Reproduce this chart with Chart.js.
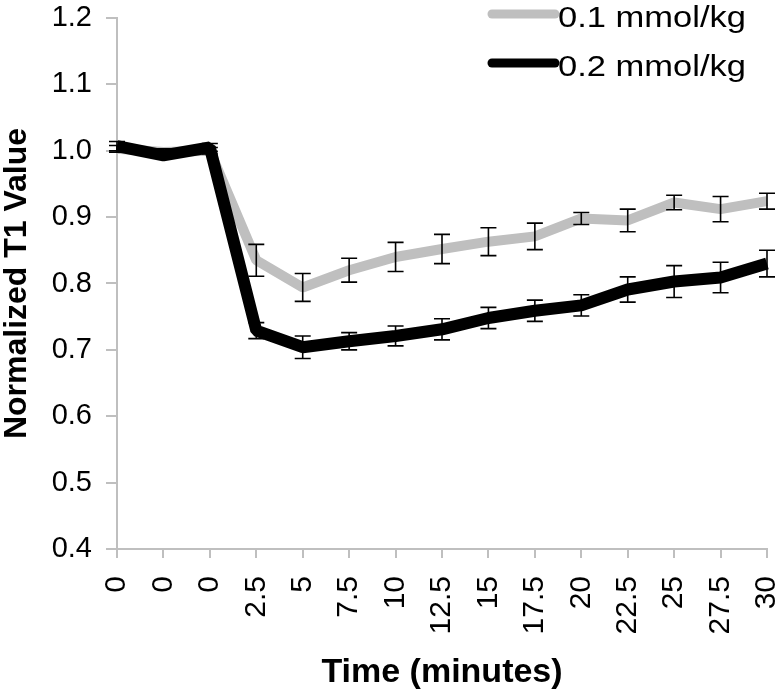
<!DOCTYPE html>
<html>
<head>
<meta charset="utf-8">
<script src="https://cdn.jsdelivr.net/npm/chart.js@4.4.1/dist/chart.umd.min.js"></script>
<style>
  html, body { margin: 0; padding: 0; background: #fff; }
  #wrap { width: 784px; height: 693px; position: relative; }
</style>
</head>
<body>
<div id="wrap"><canvas id="c"></canvas></div>
<script>
const categories = ['0','0','0','2.5','5','7.5','10','12.5','15','17.5','20','22.5','25','27.5','30'];
const seriesNames = ['0.1 mmol/kg', '0.2 mmol/kg'];
const dose01 = [1.003, 0.998, 1.000, 0.835, 0.794, 0.820, 0.840, 0.852, 0.863, 0.871, 0.898, 0.895, 0.922, 0.912, 0.924];
const dose01Err = [0.005, 0.005, 0.005, 0.024, 0.021, 0.018, 0.022, 0.022, 0.021, 0.020, 0.009, 0.017, 0.011, 0.019, 0.012];
const dose02 = [1.007, 0.993, 1.005, 0.729, 0.704, 0.713, 0.721, 0.731, 0.748, 0.759, 0.767, 0.791, 0.803, 0.809, 0.830];
const dose02Err = [0.007, 0.004, 0.006, 0.012, 0.017, 0.013, 0.015, 0.016, 0.016, 0.016, 0.016, 0.019, 0.024, 0.023, 0.020];
const yTicks = [0.4, 0.5, 0.6, 0.7, 0.8, 0.9, 1.0, 1.1, 1.2];

const GRAY = '#bfbfbf';
const FONT = "'Liberation Sans', Arial, sans-serif";

const errorBars = {
  id: 'errorBars',
  afterDatasetsDraw(chart) {
    const ctx = chart.ctx;
    const y = chart.scales.y;
    ctx.save();
    ctx.strokeStyle = '#000';
    ctx.lineWidth = 1.6;
    chart.data.datasets.forEach((ds, di) => {
      const meta = chart.getDatasetMeta(di);
      meta.data.forEach((pt, i) => {
        const v = ds.data[i], e = ds.errors[i];
        const x = pt.x;
        const yt = y.getPixelForValue(v + e);
        const yb = y.getPixelForValue(v - e);
        ctx.beginPath();
        ctx.moveTo(x, yt); ctx.lineTo(x, yb);
        ctx.moveTo(x - 8, yt); ctx.lineTo(x + 8, yt);
        ctx.moveTo(x - 8, yb); ctx.lineTo(x + 8, yb);
        ctx.stroke();
      });
    });
    ctx.restore();
  }
};

const customLegend = {
  id: 'customLegend',
  afterDraw(chart) {
    const ctx = chart.ctx;
    const ca = chart.chartArea;
    const x0 = ca.right - 275, x1 = ca.right - 212;
    const rows = [14, 63];
    ctx.save();
    chart.data.datasets.forEach((ds, i) => {
      const yy = rows[i];
      ctx.strokeStyle = ds.borderColor;
      ctx.lineWidth = 9;
      ctx.lineCap = 'round';
      ctx.beginPath();
      ctx.moveTo(x0, yy); ctx.lineTo(x1, yy);
      ctx.stroke();
      ctx.save();
      ctx.translate(x1 + 3, yy + 5);
      ctx.scale(1.19, 1);
      ctx.fillStyle = '#000';
      ctx.font = '29px ' + FONT;
      ctx.textBaseline = 'middle';
      ctx.textAlign = 'left';
      ctx.fillText(ds.label, 0, 0);
      ctx.restore();
    });
    ctx.restore();
  }
};

new Chart(document.getElementById('c'), {
  type: 'line',
  data: {
    labels: categories,
    datasets: [
      { label: seriesNames[0], data: dose01, errors: dose01Err, borderColor: GRAY, backgroundColor: GRAY,
        borderWidth: 10, pointRadius: 0, tension: 0, borderJoinStyle: 'bevel', order: 1 },
      { label: seriesNames[1], data: dose02, errors: dose02Err, borderColor: '#000', backgroundColor: '#000',
        borderWidth: 12, pointRadius: 0, tension: 0, borderJoinStyle: 'bevel', order: 0 }
    ]
  },
  options: {
    responsive: true,
    maintainAspectRatio: false,
    animation: false,
    layout: { padding: { top: 18, right: 17, left: 0, bottom: 0 } },
    plugins: { legend: { display: false }, tooltip: { enabled: false } },
    scales: {
      x: {
        offset: false,
        grid: { drawOnChartArea: false, color: GRAY, lineWidth: 2, tickLength: 9, offset: false },
        border: { color: GRAY, width: 2 },
        ticks: { color: '#000', font: { family: FONT, size: 30 }, minRotation: 90, maxRotation: 90, padding: 18, autoSkip: false },
        title: { display: true, text: 'Time (minutes)', color: '#000',
          font: { family: FONT, size: 34, weight: 'bold', lineHeight: 1.2 }, padding: { top: 15, bottom: 0 } },
        afterFit(s) { s.height = 144; s.paddingLeft = 0; s.paddingRight = 0; }
      },
      y: {
        min: 0.4, max: 1.2,
        afterBuildTicks(s) { s.ticks = yTicks.map(v => ({ value: v })); },
        grid: { drawOnChartArea: false, color: GRAY, lineWidth: 2, tickLength: 11 },
        border: { color: GRAY, width: 2 },
        ticks: { color: '#000', font: { family: FONT, size: 29 }, padding: 14,
          callback: v => Number(v).toFixed(1) },
        title: { display: true, text: 'Normalized T1 Value', color: '#000',
          font: { family: FONT, size: 32, weight: 'bold', lineHeight: 1.0 }, padding: { top: 1, bottom: 0 } },
        afterFit(s) { s.width = 117; s.paddingTop = 0; s.paddingBottom = 0; }
      }
    }
  },
  plugins: [errorBars, customLegend]
});
</script>
</body>
</html>
